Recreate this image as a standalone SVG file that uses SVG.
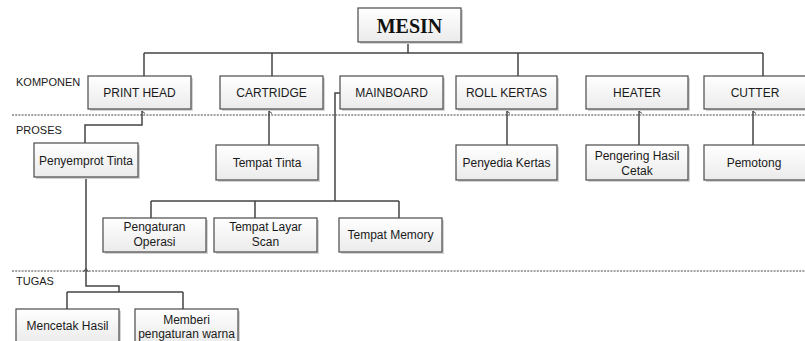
<svg xmlns="http://www.w3.org/2000/svg" width="805" height="341" viewBox="0 0 805 341">
<defs>
<linearGradient id="g" x1="0" y1="0" x2="0" y2="1"><stop offset="0" stop-color="#ffffff"/><stop offset="1" stop-color="#ebebeb"/></linearGradient>
<marker id="ah" markerWidth="6" markerHeight="6" refX="3" refY="1" orient="auto" markerUnits="userSpaceOnUse"><path d="M0.5,4 L3,1 L5.5,4" fill="none" stroke="#444" stroke-width="1"/></marker>
</defs>
<style>
.sh{fill:#d4d4d4}
.bx{fill:url(#g);stroke:#4a4a4a;stroke-width:1.2}
.t{font-family:"Liberation Sans",Arial,sans-serif;font-size:12px;fill:#1a1a1a;text-anchor:middle}
.lb{font-family:"Liberation Sans",Arial,sans-serif;font-size:11px;fill:#1a1a1a}
.c{fill:none;stroke:#444;stroke-width:1.5}
.d{fill:none;stroke:#444;stroke-width:1.2;stroke-dasharray:2 1.2}
.m{fill:none;stroke:#444;stroke-width:1}
</style>
<rect width="805" height="341" fill="#fff"/>
<g id="dividers">
<line class="d" x1="12" y1="115" x2="805" y2="115"/>
<line class="d" x1="12" y1="271" x2="805" y2="271"/>
<path class="m" d="M83.5,272 L86,268.5 L88.5,272"/>
</g>
<g id="labels">
<text class="lb" x="16" y="86">KOMPONEN</text>
<text class="lb" x="16" y="134">PROSES</text>
<text class="lb" x="16" y="285">TUGAS</text>
</g>
<g id="connectors">
<path class="c" d="M408,42 V53 M144,53 H763 M144,53 V76 M272,53 V76 M518,53 V76 M763,53 V76"/>
<path class="c" d="M85,143 V125 H142 V111" marker-end="url(#ah)"/>
<path class="c" d="M269,145 V111" marker-end="url(#ah)"/>
<path class="c" d="M507,145 V111" marker-end="url(#ah)"/>
<path class="c" d="M639,145 V111" marker-end="url(#ah)"/>
<path class="c" d="M753,145 V111" marker-end="url(#ah)"/>
<path class="c" d="M340,93 H335 V201 M151,201 H399 M151,201 V218 M255,201 V218 M399,201 V218"/>
<path class="c" d="M86,177 V286 H119 V292 M67,292 H183 M67,292 V309 M183,292 V309"/>
</g>
<g id="mesin"><rect class="sh" x="360" y="10" width="103" height="34"/><rect class="bx" x="358" y="8" width="103" height="34"/><text x="409.5" y="33" font-family="'Liberation Serif','Times New Roman',serif" font-size="20" font-weight="bold" text-anchor="middle" fill="#111">MESIN</text></g>
<g id="printhead"><rect class="sh" x="90" y="78" width="103" height="33"/><rect class="bx" x="88" y="76" width="103" height="33"/><text class="t" x="139.5" y="96.5">PRINT HEAD</text></g>
<g id="cartridge"><rect class="sh" x="222" y="78" width="103" height="33"/><rect class="bx" x="220" y="76" width="103" height="33"/><text class="t" x="271.5" y="96.5">CARTRIDGE</text></g>
<g id="mainboard"><rect class="sh" x="342" y="78" width="103" height="33"/><rect class="bx" x="340" y="76" width="103" height="33"/><text class="t" x="391.5" y="96.5">MAINBOARD</text></g>
<g id="rollkertas"><rect class="sh" x="458" y="78" width="101" height="33"/><rect class="bx" x="456" y="76" width="101" height="33"/><text class="t" x="506.5" y="96.5">ROLL KERTAS</text></g>
<g id="heater"><rect class="sh" x="588" y="78" width="102" height="33"/><rect class="bx" x="586" y="76" width="102" height="33"/><text class="t" x="637" y="96.5">HEATER</text></g>
<g id="cutter"><rect class="sh" x="706" y="78" width="104" height="33"/><rect class="bx" x="704" y="76" width="104" height="33"/><text class="t" x="755" y="96.5">CUTTER</text></g>
<g id="penyemprot"><rect class="sh" x="36" y="145" width="104" height="34"/><rect class="bx" x="34" y="143" width="104" height="34"/><text class="t" x="86" y="165">Penyemprot Tinta</text></g>
<g id="tempattinta"><rect class="sh" x="218" y="147" width="102" height="35"/><rect class="bx" x="216" y="145" width="102" height="35"/><text class="t" x="267" y="167">Tempat Tinta</text></g>
<g id="penyedia"><rect class="sh" x="458" y="147" width="101" height="35"/><rect class="bx" x="456" y="145" width="101" height="35"/><text class="t" x="506.5" y="167">Penyedia Kertas</text></g>
<g id="pengering"><rect class="sh" x="588" y="147" width="102" height="35"/><rect class="bx" x="586" y="145" width="102" height="35"/><text class="t" x="637" y="160">Pengering Hasil</text><text class="t" x="637" y="175">Cetak</text></g>
<g id="pemotong"><rect class="sh" x="706" y="147" width="104" height="35"/><rect class="bx" x="704" y="145" width="104" height="35"/><text class="t" x="754" y="167">Pemotong</text></g>
<g id="pengaturan"><rect class="sh" x="105" y="220" width="103" height="34"/><rect class="bx" x="103" y="218" width="103" height="34"/><text class="t" x="154.5" y="231">Pengaturan</text><text class="t" x="154.5" y="246">Operasi</text></g>
<g id="layarscan"><rect class="sh" x="216" y="220" width="103" height="34"/><rect class="bx" x="214" y="218" width="103" height="34"/><text class="t" x="265.5" y="231">Tempat Layar</text><text class="t" x="265.5" y="246">Scan</text></g>
<g id="memory"><rect class="sh" x="341" y="220" width="103" height="34"/><rect class="bx" x="339" y="218" width="103" height="34"/><text class="t" x="390.5" y="239">Tempat Memory</text></g>
<g id="mencetak"><rect class="sh" x="18" y="311" width="103" height="34"/><rect class="bx" x="16" y="309" width="103" height="34"/><text class="t" x="67.5" y="330">Mencetak Hasil</text></g>
<g id="memberi"><rect class="sh" x="137" y="311" width="103" height="34"/><rect class="bx" x="135" y="309" width="103" height="34"/><text class="t" x="186.5" y="324">Memberi</text><text class="t" x="186.5" y="338">pengaturan warna</text></g>
</svg>
